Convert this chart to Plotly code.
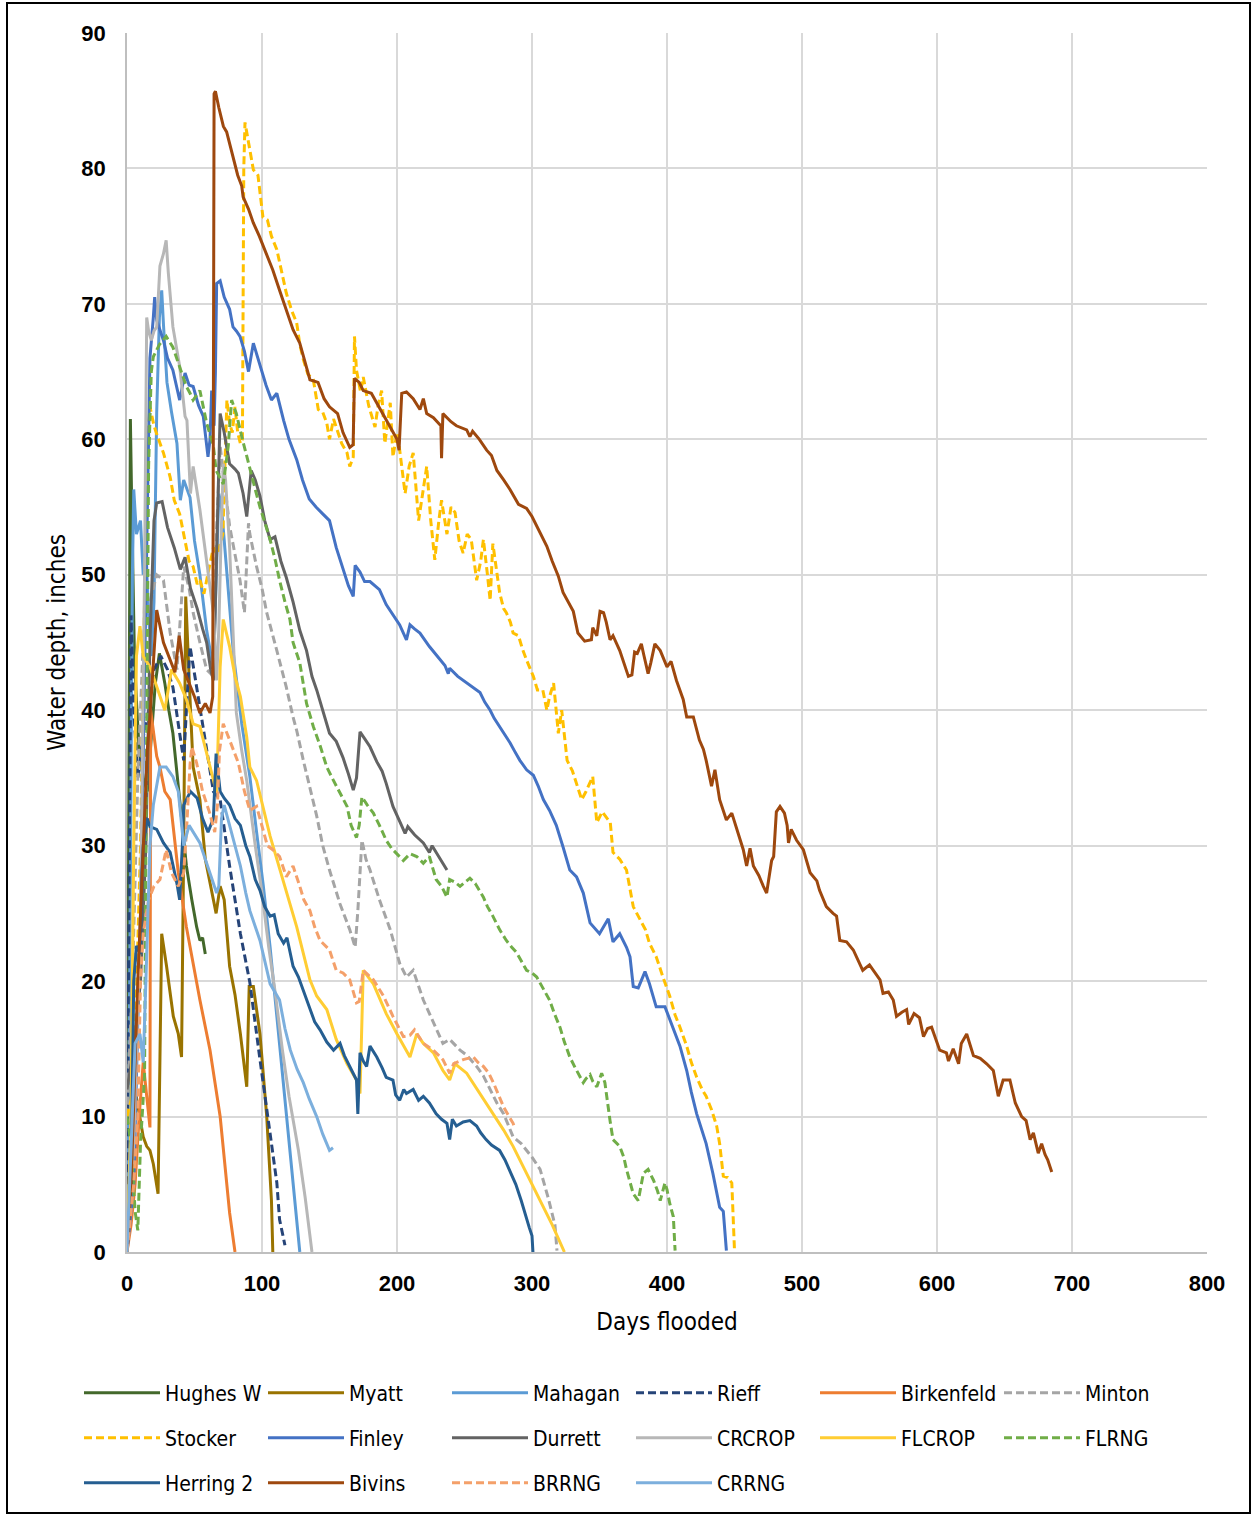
import plotly.graph_objects as go

# ---------------- data (days flooded, water depth in inches) ----------------
hughes_d = [0, 1.5, 2.5, 3.5, 4.5, 5.5, 7, 9, 12, 15, 18, 21, 24, 28, 31, 34, 39, 44, 48, 51.6, 54, 56, 58]
hughes_v = [0, 35, 61.5, 55, 48, 44, 40.7, 37, 35, 34, 38, 42, 44.2, 42, 40, 38.3, 33.4, 28.5, 26, 24, 23, 23.2, 22]

myatt_d = [0, 3, 6, 9.6, 12, 14.6, 17, 19.5, 23, 24.5, 25.7, 29.3, 34.3, 38, 40.4, 42, 43.5, 46.7, 49, 54, 58, 61, 64, 66, 69, 72, 76, 80, 84, 88.7, 90.5, 93.6, 98.5, 103.5, 107, 108]
myatt_v = [0, 10, 12, 9.7, 8.5, 7.8, 7.5, 6.5, 4.3, 15, 23.5, 21.1, 17.4, 16.1, 14.4, 30, 48.4, 40.8, 35.8, 33.4, 29, 27.5, 26, 25, 27, 26, 21.1, 19, 16.1, 12.2, 19.6, 19.6, 16.1, 10, 3.8, 0]

mahagan_d = [0, 2, 4, 5, 7, 10, 12, 14, 16, 18, 20, 22, 24, 25.7, 27, 29.6, 33, 37, 39.5, 42, 46.7, 50, 54, 59, 64, 66, 68, 70, 74, 79, 85, 91, 96, 101, 106, 111, 116, 121, 125, 128]
mahagan_v = [0, 20, 50, 56.3, 53, 54, 50, 52, 47, 44, 48, 62, 69, 71, 68.5, 64.2, 62, 59.7, 55.5, 57, 55.7, 52.5, 50, 45.9, 43, 50, 56, 55, 50, 44, 39, 35.1, 31, 27, 22.5, 17.5, 12.5, 7.5, 3.5, 0]

rieff_d = [0, 2, 3, 5, 8, 12, 16, 20, 25, 30, 34, 39, 42, 44, 46.7, 51.6, 56, 61.5, 64, 69, 76, 84, 91, 98.5, 106, 111, 113, 117]
rieff_v = [5, 30, 47, 40, 35, 38, 40, 43, 44, 43, 41.7, 38.3, 36.3, 40, 44.7, 41.7, 39, 35.8, 34, 33.4, 28.5, 23.5, 19.9, 14.2, 8.8, 5.1, 2.4, 0.5]

birk_d = [0, 3, 6, 9, 12, 14, 17, 17.5, 20, 22, 24.4, 28, 32, 38, 44, 54, 61.5, 69, 76, 80]
birk_v = [0, 2, 5, 10, 14, 12, 9.2, 40, 38, 36.6, 35.8, 34, 33.4, 28, 24, 18.6, 14.9, 10, 2.9, 0]

minton_d = [0, 4, 8, 12, 17, 22, 27, 32, 37, 42, 46, 49, 54, 59, 64, 66.4, 69, 72, 76, 80, 83.7, 87, 90, 91, 96, 100, 103.5, 111, 118, 123, 125.7, 130.6, 135, 140.5, 145, 150, 157.8, 165, 169, 171, 174, 177, 180, 187, 195, 202, 207, 212, 219.5, 227, 234, 239, 246.7, 252, 259, 264, 269, 274, 279, 286, 292, 300, 306, 312, 317, 318.5]
minton_v = [10, 20, 35, 45, 48, 50, 49.6, 45.7, 43, 50.6, 49, 47.2, 45, 43, 42.5, 53.3, 59.5, 57, 53.6, 51.5, 49.6, 47.2, 53.8, 53, 50.6, 49, 47.2, 44.4, 41.7, 39.5, 38.5, 36.3, 34.5, 32.2, 30, 28.2, 25.7, 23.8, 22.5, 25.2, 30.4, 29, 28.2, 26, 23.8, 21.3, 20.3, 20.8, 18.6, 16.9, 15.4, 15.7, 14.9, 14.5, 13.7, 13, 12, 11, 10.2, 8.5, 8, 7, 6.1, 4, 2, 0.1]

stocker_d = [0, 5, 10, 13, 15, 17, 20, 22, 27, 32, 35, 37, 39, 42, 46, 49, 52, 54, 57, 61, 64, 67, 71, 74, 76, 78, 80, 82, 84, 85.5, 86.5, 87.4, 90, 93.6, 97, 100.7, 104, 107, 111, 115, 118, 122, 125.7, 128, 130.6, 134, 138, 141.7, 145, 148, 150, 153, 155, 159, 163, 165, 167.6, 168.5, 170, 173, 175, 179, 183.7, 186, 188.6, 191, 195, 197, 200, 202, 206, 209, 212, 216, 219, 222, 225, 228, 231, 233, 237, 240, 243, 246, 249, 252, 255, 259, 262, 264, 267, 269, 271, 274, 276, 279, 281, 284, 286, 290, 293, 296, 301, 304, 308, 311, 313, 316, 319.5, 322, 326, 330, 333, 336.8, 340, 345, 348, 352, 358, 360, 365, 370, 375, 380, 384, 387, 392, 397, 402, 406, 409.6, 414.6, 418, 422, 426, 429, 433, 436.8, 439, 441.7, 445, 448, 449, 450]
stocker_v = [10, 12, 30, 50, 60, 62.4, 61, 60.4, 59, 57.2, 55.5, 55, 54.5, 53, 51, 50.6, 49.3, 49.6, 48.6, 50.6, 52, 51.5, 53, 62.9, 61.2, 60.5, 62.4, 60.5, 59.7, 60, 80, 83.4, 81.9, 79.9, 79.5, 76.4, 76.2, 75, 74, 72.3, 70.8, 69.5, 68.6, 67, 65.9, 64.8, 64.4, 62.2, 62, 61.2, 60, 61.5, 60.9, 59.7, 59, 58, 58.7, 67.6, 65.1, 63.5, 64.6, 62.5, 60.9, 62.5, 63.6, 59.7, 62.7, 58.7, 60.5, 59.2, 56, 58, 59, 54, 56, 58, 54, 51.1, 54, 55.5, 53, 55, 54.6, 52.5, 51.6, 53, 52.6, 49.6, 51, 52.6, 50, 48.1, 52.3, 50, 48.7, 47.5, 47.2, 46.5, 45.7, 45.5, 44.5, 43.7, 42.5, 41.5, 41.5, 40, 41, 42, 38.3, 40, 36.3, 35.5, 34.5, 33.4, 34, 35.1, 31.7, 32.5, 31.7, 29.5, 29, 28.2, 25.5, 24.5, 23.8, 22.8, 21.8, 20.3, 18.9, 17.5, 16.6, 15.2, 14, 12.9, 12, 11.5, 10.5, 9.3, 8, 5.6, 5.5, 5.1, 3, 0.1]

finley_d = [0, 5, 10, 14, 17, 19.5, 20.5, 22, 27, 30, 34, 39, 43, 46, 49, 53, 56.5, 60, 61.5, 62.7, 64.5, 65.5, 66.4, 69, 72, 76, 78.5, 81, 83.7, 87, 90, 93.6, 98.5, 103, 107, 111, 116, 120, 125.7, 130, 135, 140, 145, 150, 155, 160, 164, 167.6, 169, 172.6, 176, 180, 187, 192, 197, 202, 207, 209.6, 213, 217, 224, 230, 235.5, 238, 239, 245, 251.6, 256, 261.5, 265, 269, 272, 276, 280, 283.7, 287, 291, 296, 301, 304.6, 308.4, 313, 318, 323, 328, 333, 338, 343, 350, 356.5, 360, 365, 370, 372.6, 375, 378.7, 383.7, 387, 392, 398.5, 404.7, 409.6, 414.6, 418, 422, 426, 429, 434, 439, 441.7, 444]
finley_v = [0, 5, 25, 50, 66, 69, 70.5, 68.8, 67.3, 66, 65.1, 62.9, 64.9, 64, 63.9, 62.5, 61.7, 58.7, 60, 63.6, 61, 65, 71.5, 71.7, 70.5, 69.6, 68.3, 68, 67.6, 66.5, 65, 67.1, 65.4, 64, 62.9, 63.4, 61.4, 60, 58.5, 57, 55.6, 55, 54.5, 54, 52, 50.5, 49.2, 48.4, 50.7, 50.2, 49.5, 49.5, 48.9, 47.8, 47, 46.3, 45.2, 46.3, 46, 45.7, 44.7, 44, 43.3, 42.7, 43.1, 42.5, 42, 41.7, 41.3, 40.6, 40, 39.4, 38.8, 38.2, 37.6, 37, 36.3, 35.6, 35.2, 34.4, 33.4, 32.6, 31.5, 29.9, 28.2, 27.7, 26.5, 24.3, 23.5, 24.6, 22.9, 23.5, 22.5, 21.8, 19.6, 19.5, 20.7, 19.8, 18.1, 18.1, 16.4, 15.2, 13.4, 11.8, 10.2, 9, 8, 5.8, 3.3, 3, 0.1]

durrett_d = [0, 5, 10, 14, 17, 20, 22, 26, 30, 35, 39.5, 43, 47, 52, 56, 59, 62, 64, 66, 69, 72, 76, 80, 82.5, 86, 88.7, 92, 95, 98.5, 102, 106, 109.6, 114, 118, 123, 128, 133, 137, 140.5, 145, 150, 155, 160, 164, 167.6, 170, 172.6, 176, 180, 185, 189, 192, 197, 202, 206, 208, 213, 219.5, 224, 226, 231, 237]
durrett_v = [12, 15, 20, 30, 45, 54, 55.3, 55.4, 53.5, 52, 50.4, 51.3, 49, 47.5, 46, 45, 43, 42.2, 50, 61.9, 60.5, 58.2, 57.8, 57.5, 56, 54.3, 57.7, 57, 55.8, 54, 52.6, 52.8, 51, 49.8, 48, 45.9, 44.4, 42.5, 41.5, 40, 38.3, 37.7, 36.5, 35.3, 34.1, 35, 38.4, 37.9, 37.3, 36.2, 35.5, 34.6, 32.9, 31.8, 30.9, 31.4, 30.8, 30.2, 29.5, 30, 29.2, 28.2]

crcrop_d = [0, 5, 10, 13, 14.6, 16, 18, 20, 22, 24.4, 27, 29, 30.6, 34, 39, 43, 44.4, 47, 49, 52.8, 54, 59, 64, 66.4, 68, 69.5, 71.3, 73, 76, 81, 85, 88.7, 91, 95, 100, 105, 110, 115, 120, 127, 132, 137]
crcrop_v = [0, 8, 25, 50, 69, 68, 67.3, 68, 68.3, 72.8, 73.7, 74.7, 72.3, 68.3, 65.4, 61.7, 61.4, 56, 58, 55.5, 54.8, 51, 47.2, 42.2, 46, 52, 58.2, 57, 52, 39.8, 37, 34.8, 33, 30, 26.5, 22.5, 19, 15, 11.5, 7.5, 4, 0]

flcrop_d = [0, 3, 5, 7, 9.6, 12, 17, 22, 28, 33, 39, 44, 49, 54, 61.5, 66.4, 69, 71.3, 76, 80, 84, 88.7, 91, 96, 106, 116, 125.7, 135.5, 140.5, 148, 155, 163, 170, 172.6, 175, 182.5, 192, 200, 209.6, 214.6, 219.5, 227, 234, 239, 243, 251.6, 261.5, 271.4, 279, 286, 295, 305, 315, 324]
flcrop_v = [0, 10, 30, 44, 46.2, 44, 43.2, 41.7, 40, 43, 42, 40.8, 39, 38.8, 35.8, 33.9, 43.2, 46.7, 44.7, 42.5, 41, 38, 35.8, 34.8, 30.7, 27.2, 24, 20.1, 18.9, 17.9, 15.7, 13.9, 12.7, 11.7, 20.8, 19.8, 17.6, 16.1, 14.4, 16.1, 15.4, 14.7, 13.4, 12.7, 13.9, 13.2, 11.7, 10.2, 9, 7.8, 6, 4, 2, 0]

flrng_d = [0, 3, 6, 8, 10, 12, 13, 14, 15, 16, 18, 19.5, 24, 29, 34, 39, 44, 46.7, 49, 54, 59, 64, 66, 71.3, 73, 75, 77.5, 81, 85, 88, 91, 95, 98.5, 102, 106, 110, 113, 117, 120.7, 123, 128, 133, 138, 143, 148, 153, 158, 163, 166, 170, 172, 174, 178, 182.5, 187, 192, 196, 200, 204.7, 209.6, 214.6, 219.5, 224, 226, 229, 233, 237, 239, 243, 246.7, 250, 254, 258, 264, 267, 271, 276, 281, 285, 288.6, 292, 296, 300, 303.5, 308, 313, 317, 320.7, 324, 328, 332, 335.6, 338, 340, 343, 345, 348, 351.6, 354, 357.8, 360, 365, 368, 370, 373, 375, 378.7, 382.5, 386, 390, 393, 395, 398.5, 400, 402, 404.7, 406]
flrng_v = [10, 8, 3, 1.6, 8, 12, 13, 30, 45, 58, 65, 66.1, 67, 67.6, 66.8, 65.4, 63.9, 63.4, 62.9, 63.6, 61.2, 59.5, 57.7, 56.7, 58, 59.5, 62.9, 61.9, 60.2, 59, 57.7, 56.3, 55, 53.8, 52.6, 51, 49.6, 48, 46.7, 45, 43.5, 40.5, 38.8, 37.4, 35.8, 34.8, 33.8, 32.9, 31.5, 30.6, 31.5, 33.6, 33, 32.4, 31.5, 30.4, 29.8, 29.4, 28.9, 29.4, 29.2, 28.7, 29.2, 28.5, 27.5, 27, 26.2, 27.5, 27.3, 27, 27.3, 27.6, 27.2, 26.2, 25.5, 24.8, 23.8, 23, 22.5, 22.1, 21.5, 20.8, 20.6, 20.3, 19.5, 18.6, 17.5, 16.6, 15.5, 14.4, 13.6, 12.9, 12.5, 12.8, 13.1, 12.6, 12.2, 13.2, 12.5, 9.7, 8.3, 7.8, 7, 6.1, 5, 4.3, 3.8, 5.8, 6.1, 5.3, 4.5, 3.8, 5.1, 4.6, 3.6, 2.6, 0.1]

herring_d = [0, 3, 5, 7, 10, 11, 12, 15, 17, 22, 27, 32, 37, 39, 41, 42, 47, 52, 56, 60, 64, 66, 69, 72, 76, 80, 84, 88, 91, 95, 98.5, 102, 106, 109, 112, 116, 118.5, 123, 127, 130.6, 135.5, 139, 143, 148, 153, 157.8, 161, 165, 170, 171, 172.6, 175, 177.5, 180, 185, 189, 192, 197, 199, 202, 205, 207, 212, 216, 219.5, 224, 229, 233, 237, 239, 241, 244, 249, 254, 259, 262, 266, 270, 276, 280, 283.7, 288, 292, 295, 298, 300, 300.7]
herring_v = [0, 5, 20, 22.6, 22, 28, 30, 32, 31.4, 31.2, 30.2, 29.5, 27.2, 26, 30, 33, 34, 33.5, 32, 31, 32, 36.8, 34, 33.5, 33, 32, 31.5, 30, 29.2, 27.5, 26.7, 25.5, 24.8, 24.9, 23.5, 22.8, 23.2, 21.1, 20.3, 19.3, 17.9, 17, 16.4, 15.5, 14.9, 15.4, 14.5, 13.7, 12.7, 10.2, 14.7, 14.1, 13.7, 15.2, 14.4, 13.6, 12.9, 12.7, 11.6, 11.2, 12, 11.7, 12, 11.2, 11.5, 11, 10.2, 9.8, 9.5, 8.3, 9.8, 9.3, 9.6, 9.7, 9.3, 8.8, 8.3, 7.9, 7.5, 6.8, 6, 5, 3.8, 2.7, 1.8, 1.2, 0]

bivins_d = [0, 3, 8, 12, 15, 17, 22, 27, 31, 35.5, 38.7, 42, 46, 50, 54, 58, 61.5, 63.5, 64.5, 65.5, 68, 71.4, 73.8, 78, 82, 85, 86, 90, 93.5, 98, 103.5, 108, 113, 118, 123, 128, 133, 135.5, 141.5, 146, 150, 156, 160, 165, 167.5, 168.5, 172, 175, 181, 186, 190, 195, 200, 201.5, 203.5, 207, 212, 217, 219.5, 222, 227, 232.5, 233, 234, 240, 244, 251.6, 254, 256, 261, 266.4, 270, 274, 279, 283.7, 290, 296, 300, 303.5, 307, 311, 315, 319.5, 323, 327, 330.6, 334, 339, 344, 345, 348, 350.4, 353, 355, 357.8, 360, 365, 368, 371.4, 374, 376, 378, 381, 383, 386, 388, 391, 395, 400, 403, 407, 412, 414.6, 419.5, 424, 427, 429, 433, 435.5, 439, 444, 448, 451.6, 456.5, 459, 461.5, 464, 468, 471.4, 473.8, 477.5, 479, 481, 483.7, 487, 489, 490, 492, 496, 501, 506, 511, 513, 518, 523, 525.6, 528, 533, 538, 545, 550, 557.8, 560, 564, 567.6, 570, 574, 577.5, 579, 583, 587, 590, 593, 596, 602, 607, 608.5, 612, 616, 618, 622, 624.5, 627, 632, 636.8, 641.7, 645.4, 649, 654, 658, 662.7, 666, 669, 671.4, 675, 677.5, 680, 682, 685]
bivins_v = [0, 5, 20, 30, 37, 39.5, 47.4, 45, 44, 42.8, 45.5, 43, 42, 41, 39.8, 40.5, 39.8, 41, 85.5, 85.7, 84.5, 83.1, 82.7, 81, 79.5, 78.7, 77.9, 77, 76, 75, 73.6, 72.5, 71, 69.5, 68.1, 67.1, 65.3, 64.4, 64.2, 63, 62.4, 61.9, 60.5, 59.4, 59.6, 64.5, 64.2, 63.6, 63.4, 62.5, 61.8, 60.9, 60, 59.2, 63.4, 63.5, 63, 62.2, 63, 61.9, 61.6, 61, 58.6, 61.9, 61.3, 61, 60.7, 60.2, 60.6, 60, 59.2, 58.8, 57.7, 57, 56.3, 55.2, 54.9, 54.3, 53.6, 53, 52.1, 51, 49.9, 48.7, 48, 47.3, 45.7, 45.1, 45.2, 46.1, 45.5, 47.3, 47.2, 46.5, 45.2, 45.5, 44.4, 43.5, 42.5, 42.6, 44.3, 44.2, 44.9, 44, 42.7, 43.5, 44.9, 44.4, 43.2, 43.6, 42.2, 40.8, 39.5, 39.5, 37.8, 37.1, 36.3, 34.4, 35.6, 33.4, 31.9, 32.4, 31.2, 29.7, 28.5, 29.8, 28.5, 27.8, 27, 26.5, 28.9, 29.2, 32.5, 32.9, 32.4, 31.5, 30.2, 31.2, 30.4, 29.7, 28, 27.4, 26.7, 25.5, 25, 24.8, 23, 22.9, 22.3, 20.8, 21.2, 20.1, 19.1, 19.2, 18.6, 17.4, 17.7, 17.9, 16.8, 17.6, 17.3, 15.9, 16.5, 16.6, 14.9, 14.7, 14.1, 15, 13.9, 15.4, 16.1, 15.2, 14.5, 14.3, 13.9, 13.4, 11.5, 12.7, 12.7, 11, 10, 9.7, 8.3, 8.8, 7.3, 8, 7.2, 6.8, 5.9]

brrng_d = [0, 5, 8, 10, 12, 16, 20, 24.4, 29, 33, 38, 42, 44, 46.7, 48, 51.6, 56, 61, 65, 67, 68.5, 71.3, 76, 82.5, 87, 91, 96, 101, 104, 108, 113, 118, 123, 128, 131, 135.5, 139, 143, 150, 155, 160, 165, 170, 172, 175, 182.5, 186, 190, 197, 204.7, 209.6, 213, 219.5, 227, 234, 239, 242, 249, 256.5, 260, 264, 268, 271.4, 275, 279, 283, 286, 287]
brrng_v = [0, 5, 10, 20, 23.5, 26, 27, 27.5, 29.7, 28, 27, 28, 31, 36, 37.3, 36.1, 34, 32.5, 31, 33, 37, 39, 37.8, 36.1, 34, 32.6, 32.9, 31.2, 30, 29.7, 29.2, 27.7, 28.5, 27, 26, 25.2, 24, 23, 22.3, 20.8, 20.6, 20.1, 18.4, 18.5, 20.8, 20.1, 19.5, 18.9, 17.4, 15.9, 16, 16.4, 15.4, 14.9, 14.2, 13.2, 13.9, 14.2, 14.4, 14, 13.7, 13.2, 12.5, 11.7, 10.7, 10, 9.5, 9.2]

crrng_d = [0, 3, 6, 9.6, 12, 14, 17, 19.5, 24.4, 29, 34, 38, 42, 46, 50, 54, 58, 61.5, 66.4, 68, 70, 72, 76, 80, 84, 88, 91, 98.5, 102, 106, 113, 117, 121, 126, 130.6, 135, 140.5, 145, 150, 152.6]
crrng_v = [0, 8, 15.4, 16.1, 14, 20, 30, 33, 35.8, 35.8, 35.1, 34, 30, 31.5, 30.8, 30.2, 29, 28, 26.5, 27, 32, 33, 31.5, 30, 28.5, 26.5, 25.2, 23, 21.5, 19.8, 18.6, 16.5, 14.9, 13.5, 12.5, 11.3, 10, 8.7, 7.5, 7.7]

x_ticks = [0, 100, 200, 300, 400, 500, 600, 700, 800]
y_ticks = [0, 10, 20, 30, 40, 50, 60, 70, 80, 90]

# name, days, depth, color, dashed, legend row
series = [
    ("Hughes W", hughes_d, hughes_v, "#43682B", False, "legend"),
    ("Myatt", myatt_d, myatt_v, "#997300", False, "legend"),
    ("Mahagan", mahagan_d, mahagan_v, "#5B9BD5", False, "legend"),
    ("Rieff", rieff_d, rieff_v, "#264478", True, "legend"),
    ("Birkenfeld", birk_d, birk_v, "#ED7D31", False, "legend"),
    ("Minton", minton_d, minton_v, "#A5A5A5", True, "legend"),
    ("Stocker", stocker_d, stocker_v, "#FFC000", True, "legend2"),
    ("Finley", finley_d, finley_v, "#4472C4", False, "legend2"),
    ("Durrett", durrett_d, durrett_v, "#636363", False, "legend2"),
    ("CRCROP", crcrop_d, crcrop_v, "#B7B7B7", False, "legend2"),
    ("FLCROP", flcrop_d, flcrop_v, "#FFCD33", False, "legend2"),
    ("FLRNG", flrng_d, flrng_v, "#70AD47", True, "legend2"),
    ("Herring 2", herring_d, herring_v, "#255E91", False, "legend3"),
    ("Bivins", bivins_d, bivins_v, "#9E480E", False, "legend3"),
    ("BRRNG", brrng_d, brrng_v, "#F4A06A", True, "legend3"),
    ("CRRNG", crrng_d, crrng_v, "#7CAFDD", False, "legend3"),
]

fig = go.Figure()
for name, xs, ys, color, dashed, leg in series:
    fig.add_trace(go.Scatter(
        x=xs, y=ys, mode="lines", name=name, legend=leg,
        line=dict(color=color, width=3, dash="8px,4px" if dashed else "solid"),
        hoverinfo="skip",
    ))

W, H = 1255, 1516
L, R, T, B = 127, 48, 33, 264
pw, ph = W - L - R, H - T - B

def px2paper_x(px):
    return (px - L) / pw

def py2paper_y(py):
    return (H - B - py) / ph

narrow = "Liberation Sans Narrow, Arial Narrow, DejaVu Sans Condensed, sans-serif"
item_w = 76
leg_common = dict(orientation="h", xanchor="left", yanchor="middle",
                  x=px2paper_x(165 - item_w - 10), itemwidth=item_w,
                  entrywidth=184 - (item_w + 10) - 5, entrywidthmode="pixels",
                  font=dict(family=narrow, size=21, color="#000000"),
                  bgcolor="rgba(0,0,0,0)", itemclick=False)

fig.update_layout(
    width=W, height=H,
    margin=dict(l=L, r=R, t=T, b=B, pad=0),
    paper_bgcolor="white", plot_bgcolor="white",
    showlegend=True,
    legend=dict(leg_common, y=py2paper_y(1393)),
    legend2=dict(leg_common, y=py2paper_y(1438)),
    legend3=dict(leg_common, y=py2paper_y(1483)),
    xaxis=dict(range=[0, 800], tickvals=x_ticks, ticktext=[str(v) for v in x_ticks],
               showgrid=True, gridcolor="#D9D9D9", gridwidth=1.5,
               showline=True, linecolor="#BFBFBF", linewidth=1.5,
               zeroline=False, ticks="", ticklabelstandoff=11,
               tickfont=dict(family="Liberation Sans, Arial, sans-serif", size=22, color="#000", weight="bold"),
               title=dict(text="Days flooded", standoff=18,
                          font=dict(family=narrow, size=24, color="#000"))),
    yaxis=dict(range=[0, 90], tickvals=y_ticks, ticktext=[str(v) for v in y_ticks],
               showgrid=True, gridcolor="#D9D9D9", gridwidth=1.5,
               showline=True, linecolor="#BFBFBF", linewidth=1.5,
               zeroline=False, ticks="", ticklabelstandoff=15,
               tickfont=dict(family="Liberation Sans, Arial, sans-serif", size=22, color="#000", weight="bold"),
               title=dict(text="Water depth, inches", standoff=9,
                          font=dict(family=narrow, size=24, color="#000"))),
    shapes=[dict(type="rect", xref="paper", yref="paper",
                 x0=px2paper_x(7), x1=px2paper_x(1250),
                 y0=py2paper_y(1513), y1=py2paper_y(3),
                 line=dict(color="#000000", width=2), fillcolor="rgba(0,0,0,0)",
                 layer="below")],
)

fig.write_html("out.html")
